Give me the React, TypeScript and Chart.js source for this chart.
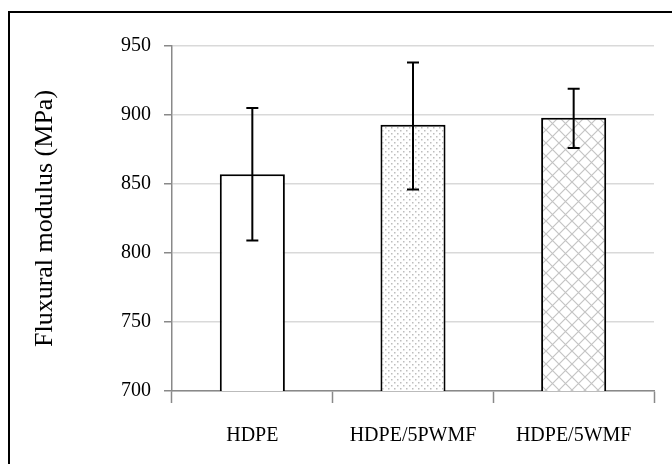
import React, { useEffect, useRef } from "react";
import { Chart, registerables } from "chart.js";

Chart.register(...registerables);

const categories = ["HDPE", "HDPE/5PWMF", "HDPE/5WMF"];
const modulusValues = [857, 893, 898];
const errorHigh = [905, 938, 919];
const errorLow = [809, 846, 876];
const yTicks = [700, 750, 800, 850, 900, 950];

function makeDots(): CanvasPattern | string {
  const c = document.createElement("canvas");
  c.width = 6;
  c.height = 6;
  const g = c.getContext("2d");
  if (!g) return "#fff";
  g.fillStyle = "#fff";
  g.fillRect(0, 0, 6, 6);
  g.fillStyle = "#bdbdbd";
  g.fillRect(1, 1, 1.5, 1.5);
  g.fillRect(4, 4, 1.5, 1.5);
  return g.createPattern(c, "repeat") || "#fff";
}

function makeCross(): CanvasPattern | string {
  const s = 13;
  const c = document.createElement("canvas");
  c.width = s;
  c.height = s;
  const g = c.getContext("2d");
  if (!g) return "#fff";
  g.fillStyle = "#fff";
  g.fillRect(0, 0, s, s);
  g.strokeStyle = "#c4c4c4";
  g.lineWidth = 1.2;
  g.beginPath();
  g.moveTo(0, 0);
  g.lineTo(s, s);
  g.moveTo(s, 0);
  g.lineTo(0, s);
  g.stroke();
  return g.createPattern(c, "repeat") || "#fff";
}

const frame = {
  id: "frame",
  beforeDraw(chart: any) {
    const ctx = chart.ctx;
    ctx.save();
    ctx.fillStyle = "#fff";
    ctx.fillRect(0, 0, chart.width, chart.height);
    ctx.strokeStyle = "#000";
    ctx.lineWidth = 2;
    ctx.beginPath();
    ctx.moveTo(9, chart.height + 5);
    ctx.lineTo(9, 12);
    ctx.lineTo(chart.width + 5, 12);
    ctx.stroke();
    ctx.restore();
  },
};

const errorBars = {
  id: "errorBars",
  afterDatasetsDraw(chart: any) {
    const ctx = chart.ctx;
    const meta = chart.getDatasetMeta(0);
    const y = chart.scales.y;
    ctx.save();
    ctx.strokeStyle = "#000";
    ctx.lineWidth = 2;
    meta.data.forEach((bar: any, i: number) => {
      const x = bar.x;
      const yh = y.getPixelForValue(errorHigh[i]);
      const yl = y.getPixelForValue(errorLow[i]);
      ctx.beginPath();
      ctx.moveTo(x, yh);
      ctx.lineTo(x, yl);
      ctx.moveTo(x - 6, yh);
      ctx.lineTo(x + 6, yh);
      ctx.moveTo(x - 6, yl);
      ctx.lineTo(x + 6, yl);
      ctx.stroke();
    });
    ctx.restore();
  },
};

export default function App() {
  const ref = useRef<HTMLCanvasElement | null>(null);
  useEffect(() => {
    if (!ref.current) return;
    const chart = new Chart(ref.current, {
      type: "bar",
      data: {
        labels: categories,
        datasets: [
          {
            data: modulusValues,
            backgroundColor: ["#ffffff", makeDots(), makeCross()] as any,
            borderColor: "#000",
            borderWidth: 2,
            borderSkipped: "start",
            barPercentage: 0.9,
            categoryPercentage: 0.45,
          },
        ],
      },
      options: {
        animation: false,
        responsive: false,
        maintainAspectRatio: false,
        layout: { padding: { left: 30, top: 46, right: 18, bottom: 0 } },
        plugins: { legend: { display: false }, tooltip: { enabled: false } },
        scales: {
          x: {
            grid: {
              offset: true,
              drawOnChartArea: false,
              tickLength: 12,
              tickColor: "#898989",
              tickWidth: 1.5,
            },
            border: { color: "#898989", width: 1.5 },
            ticks: {
              color: "#000",
              padding: 21,
              font: { family: "'Liberation Serif'", size: 20 },
            },
            afterFit(scale: any) {
              scale.height = 73;
            },
          },
          y: {
            min: 700,
            max: 950,
            afterBuildTicks(scale: any) {
              scale.ticks = yTicks.map((v) => ({ value: v }));
            },
            grid: {
              color: "#d9d9d9",
              lineWidth: 1.5,
              tickLength: 8,
              tickColor: "#898989",
              tickWidth: 1.5,
            },
            border: { color: "#898989", width: 1.5 },
            ticks: {
              color: "#000",
              padding: 13,
              font: { family: "'Liberation Serif'", size: 20 },
            },
            title: {
              display: true,
              text: "Fluxural modulus (MPa)",
              color: "#000",
              padding: 0,
              font: { family: "'Liberation Serif'", size: 26, lineHeight: 1.2 },
            },
            afterFit(scale: any) {
              scale.width = 142;
            },
          },
        },
      },
      plugins: [frame, errorBars],
    });
    return () => chart.destroy();
  }, []);
  return (
    <div style={{ position: "absolute", left: 0, top: 0, width: 672, height: 464 }}>
      <canvas ref={ref} width={672} height={464} style={{ display: "block" }} />
    </div>
  );
}
